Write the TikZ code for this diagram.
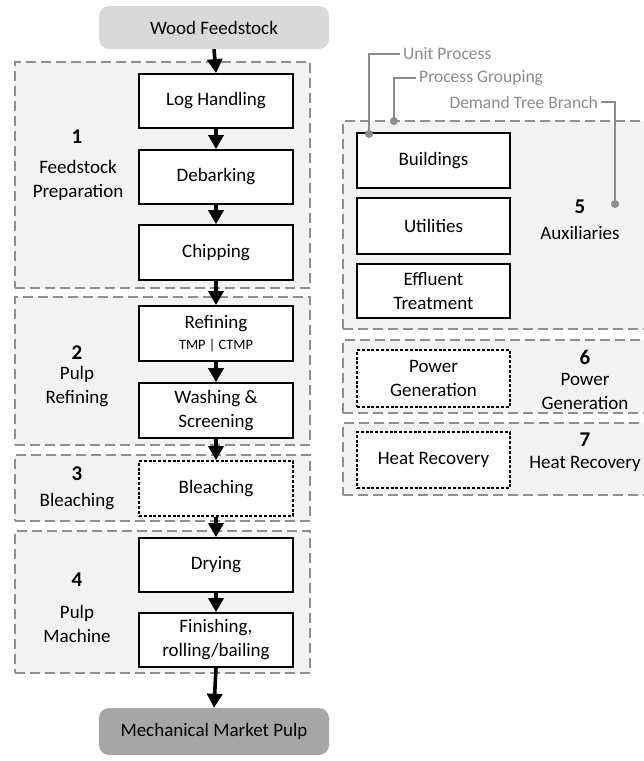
\documentclass[tikz,border=0pt]{standalone}
\usepackage{fontspec}
\setmainfont{Carlito}
\usetikzlibrary{arrows.meta}
\definecolor{grpfill}{HTML}{F2F2F2}
\definecolor{grpline}{HTML}{8F8F8F}
\definecolor{feedfill}{HTML}{D9D9D9}
\definecolor{prodfill}{HTML}{A6A6A6}
\definecolor{legendgray}{HTML}{8C8C8C}
\tikzset{
  txt/.style={font=\fontsize{19}{24}\selectfont, align=center},
  group/.style={draw=grpline, fill=grpfill, line width=1.3pt,
    dash pattern=on 10pt off 5pt, inner sep=0pt},
  unitbox/.style={txt, draw=black, fill=white, line width=1.8pt,
    minimum width=154pt, inner sep=0pt},
  optbox/.style={unitbox, dash pattern=on 3pt off 1.8pt},
  endbox/.style={txt, rounded corners=10pt, minimum width=230pt, inner sep=0pt},
  grpnum/.style={font=\fontsize{21}{24}\selectfont\bfseries},
  grplabel/.style={txt},
  flow/.style={line width=3.6pt, -{Triangle[length=14pt,width=15pt]}},
  legendline/.style={draw=legendgray, line width=1.6pt},
  legendtxt/.style={font=\fontsize{17.5}{20}\selectfont, text=legendgray, inner sep=3pt},
  legenddot/.style={circle, fill=legendgray, inner sep=0pt, minimum size=8pt}
}
\begin{document}
\begin{tikzpicture}[x=1pt,y=-1pt]
\useasboundingbox (0,0) rectangle (644,761);

% process groupings (left column)
\node[group, minimum width=295pt, minimum height=226pt] (g1) at (162.5,175) {};
\node[group, minimum width=295pt, minimum height=148pt] (g2) at (162.5,371) {};
\node[group, minimum width=295pt, minimum height=66pt]  (g3) at (162.5,488) {};
\node[group, minimum width=295pt, minimum height=142pt] (g4) at (162.5,602) {};

% process groupings (right column)
\node[group, minimum width=307pt, minimum height=208pt] (g5) at (496.5,225) {};
\node[group, minimum width=307pt, minimum height=73pt]  (g6) at (496.5,376.5) {};
\node[group, minimum width=307pt, minimum height=72pt]  (g7) at (496.5,459) {};

% feedstock and product
\node[endbox, fill=feedfill, minimum height=43pt] (wf) at (214,27.5) {Wood Feedstock};
\node[endbox, fill=prodfill, minimum height=47pt] (mp) at (214,731.5) {Mechanical Market Pulp};

% unit processes
\node[unitbox, minimum height=54pt] (lh)  at (216,101)   {Log Handling};
\node[unitbox, minimum height=54pt] (db)  at (216,177)   {Debarking};
\node[unitbox, minimum height=55pt] (ch)  at (216,252.5) {Chipping};
\node[unitbox, minimum height=55pt] (rf)  at (216,333.5) {Refining\\[-3pt]{\fontsize{14.3}{16}\selectfont TMP | CTMP}};
\node[unitbox, minimum height=55pt] (ws)  at (216,410.5) {Washing \&\\Screening};
\node[optbox,  minimum height=55pt] (bl)  at (216,488.5) {Bleaching};
\node[unitbox, minimum height=54pt] (dr)  at (216,565)   {Drying};
\node[unitbox, minimum height=54pt] (fin) at (216,640)   {Finishing,\\rolling/bailing};

\node[unitbox, minimum width=153pt, minimum height=55pt] (bld) at (433.5,160.5) {Buildings};
\node[unitbox, minimum width=153pt, minimum height=56pt] (utl) at (433.5,226)   {Utilities};
\node[unitbox, minimum width=153pt, minimum height=54pt] (eff) at (433.5,291)   {Effluent\\Treatment};
\node[optbox,  minimum width=153pt, minimum height=57pt] (pwr) at (433.5,378.5) {Power\\Generation};
\node[optbox,  minimum width=153pt, minimum height=56pt] (hr)  at (433.5,460)   {Heat Recovery};

% grouping labels
\node[grpnum] (n1) at (77,137) {1};
\node[grplabel] (l1) at (78,180) {Feedstock\\Preparation};
\node[grpnum] (n2) at (77,353) {2};
\node[grplabel] (l2) at (77,387) {Pulp\\Refining};
\node[grpnum] (n3) at (77,474) {3};
\node[grplabel] (l3) at (77,502) {Bleaching};
\node[grpnum] (n4) at (77,580) {4};
\node[grplabel] (l4) at (77,623.5) {Pulp\\Machine};
\node[grpnum] (n5) at (580,207) {5};
\node[grplabel] (l5) at (580,233) {Auxiliaries};
\node[grpnum] (n6) at (585,357) {6};
\node[grplabel] (l6) at (585,391.5) {Power\\Generation};
\node[grpnum] (n7) at (585,440) {7};
\node[grplabel] (l7) at (585,464) {Heat Recovery};

% material flow
\draw[flow] (wf.south) -- (lh.north);
\draw[flow] (lh.south) -- (db.north);
\draw[flow] (db.south) -- (ch.north);
\draw[flow] (ch.south) -- (rf.north);
\draw[flow] (rf.south) -- (ws.north);
\draw[flow] (ws.south) -- (bl.north);
\draw[flow] (bl.south) -- (dr.north);
\draw[flow] (dr.south) -- (fin.north);
\draw[flow] (fin.south) -- (mp.north);

% legend callouts
\node[legendtxt, anchor=west] (lu) at (400,54)  {Unit Process};
\node[legendtxt, anchor=west] (lg) at (416,78)  {Process Grouping};
\node[legendtxt, anchor=east] (lb) at (601,102) {Demand Tree Branch};
\node[legenddot] (du) at (369,134) {};
\node[legenddot] (dg) at (394,121) {};
\node[legenddot] (db2) at (615,204) {};
\draw[legendline] (lu.west) -| (du.center);
\draw[legendline] (lg.west) -| (dg.center);
\draw[legendline] (lb.east) -| (db2.center);
\end{tikzpicture}
\end{document}
